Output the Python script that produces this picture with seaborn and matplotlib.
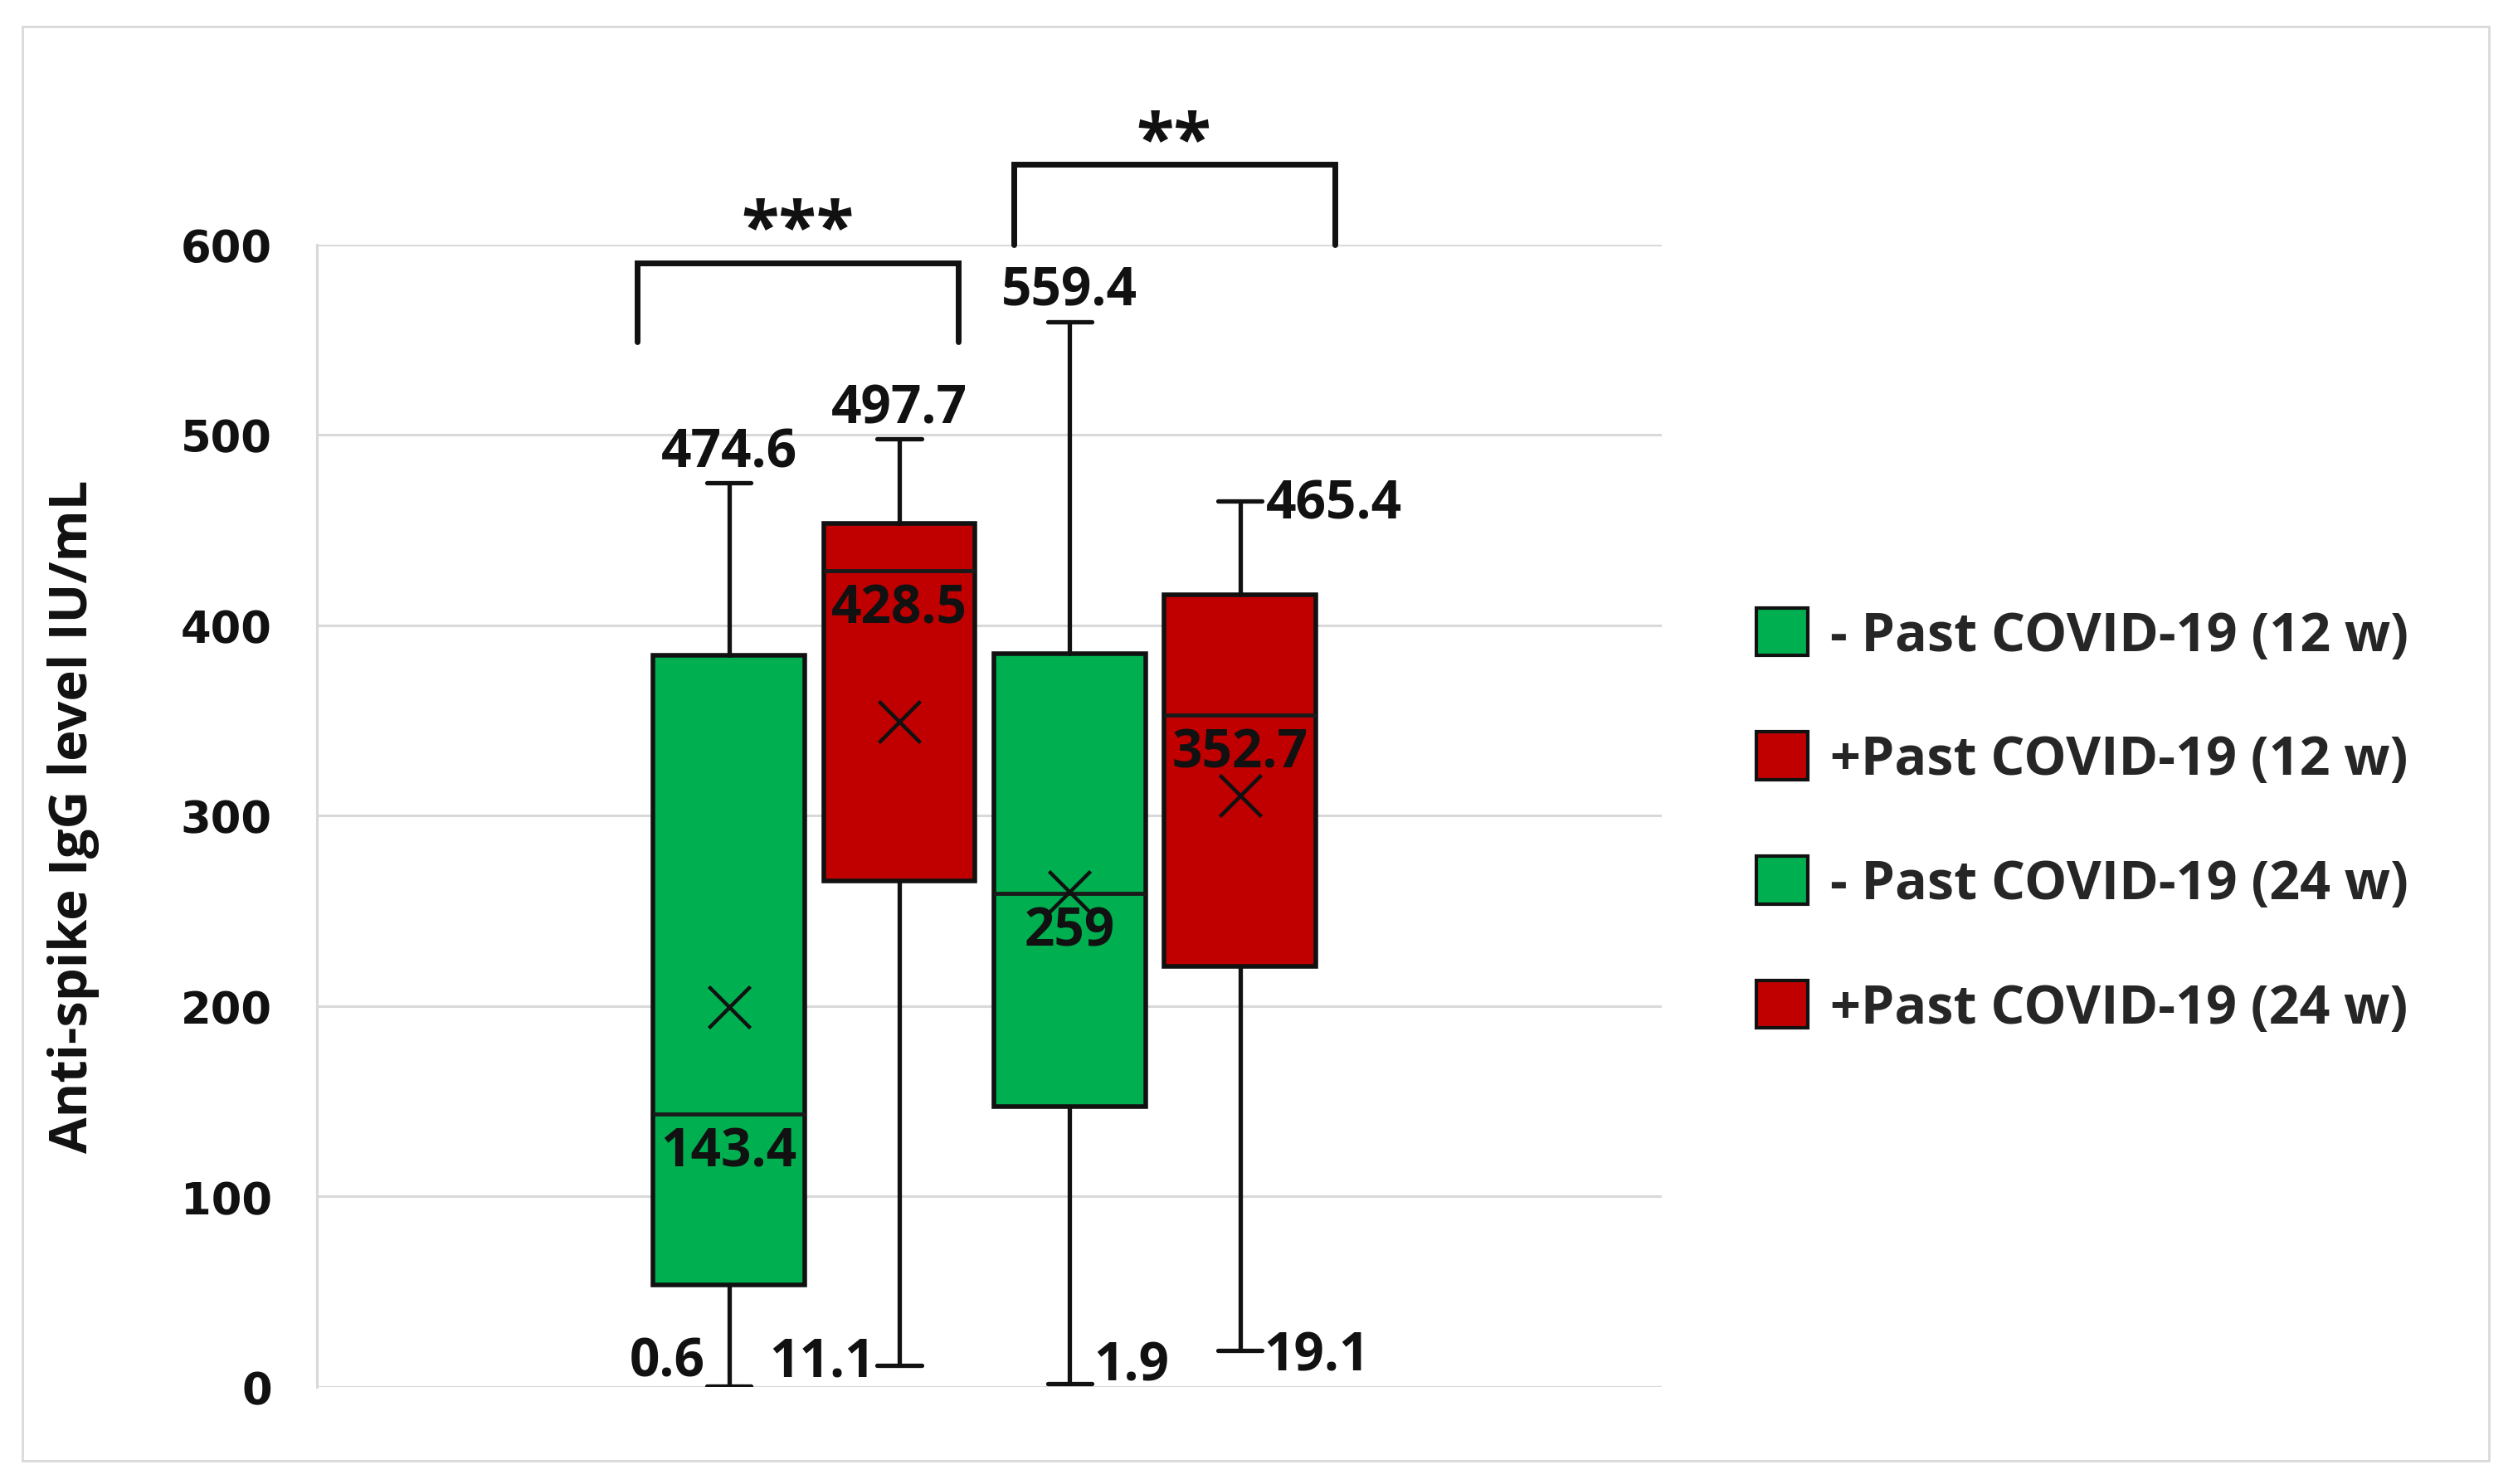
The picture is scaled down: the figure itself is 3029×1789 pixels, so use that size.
# Box plot of anti-spike IgG levels, past COVID-19 vs none, at 12 and 24 weeks
import matplotlib
matplotlib.use("Agg")
import matplotlib.pyplot as plt
from matplotlib.patches import Patch, Rectangle
import seaborn as sns

# data
groups = ["- Past COVID-19 (12 w)", "+Past COVID-19 (12 w)",
          "- Past COVID-19 (24 w)", "+Past COVID-19 (24 w)"]
whisker_low = [0.6, 11.1, 1.9, 19.1]
q1 = [53.5, 265.5, 147.0, 221.0]
median = [143.4, 428.5, 259.0, 352.7]
q3 = [384.0, 453.5, 385.0, 416.0]
whisker_high = [474.6, 497.7, 559.4, 465.4]
means = [199.5, 349.5, 260.0, 310.5]
box_colors = ["#00B050", "#C00000", "#00B050", "#C00000"]
yticks = [0, 100, 200, 300, 400, 500, 600]

# significance brackets: first box, second box, stars, bracket bottom, bracket top, stars height
sig_brackets = [(0, 1, "***", 549, 590, 607), (2, 3, "**", 600, 642, 653)]

positions = list(range(len(groups)))

sns.set_style("white")
plt.rcParams["font.family"] = ["Open Sans", "DejaVu Sans"]
plt.rcParams["font.weight"] = "bold"

fig = plt.figure(figsize=(30.29, 17.9), dpi=100)
ax = fig.add_axes([0.1261, 0.0654, 0.5352, 0.7695])

stats = []
for g, lo, a, m, b, hi in zip(groups, whisker_low, q1, median, q3, whisker_high):
    stats.append(dict(label=g, whislo=lo, q1=a, med=m, q3=b, whishi=hi, fliers=[]))

bp = ax.bxp(stats, positions=positions, widths=0.89, patch_artist=True,
            showfliers=False, capwidths=0.26,
            boxprops=dict(edgecolor="#111111", linewidth=4),
            whiskerprops=dict(color="#111111", linewidth=3.8),
            capprops=dict(color="#111111", linewidth=3.8),
            medianprops=dict(color="#1a1a1a", linewidth=3.5),
            zorder=3)
for patch, c in zip(bp["boxes"], box_colors):
    patch.set_facecolor(c)

# mean markers
sns.scatterplot(x=positions, y=means, marker="x", s=1300, color="#111111",
                linewidth=3.2, ax=ax, zorder=5, legend=False)

# value labels
lab = dict(fontsize=46, fontweight="bold", color="#111111", clip_on=False, zorder=6)
for i, p in enumerate(positions):
    ax.text(p, median[i] - 20, f"{median[i]:g}", ha="center", va="center", **lab)
    hi = whisker_high[i]
    if i == 3:
        ax.text(p + 0.15, hi - 2, f"{hi:g}", ha="left", va="center", **lab)
    else:
        ax.text(p, hi + 16, f"{hi:g}", ha="center", va="center", **lab)
    lo = whisker_low[i]
    if i < 2:
        ax.text(p - 0.14, max(lo, 14) - 1, f"{lo:g}", ha="right", va="center", **lab)
    else:
        ax.text(p + 0.14, max(lo, 14) - 3, f"{lo:g}", ha="left", va="center", **lab)

# significance brackets
offsets = [(-0.54, 0.345), (-0.33, 0.555)]
for (a, b, stars, y0, y1, ys), (dl, dr) in zip(sig_brackets, offsets):
    x0, x1 = positions[a] + dl, positions[b] + dr
    ax.plot([x0, x0, x1, x1], [y0, y1, y1, y0], color="#111111", lw=5,
            clip_on=False, solid_joinstyle="miter")
    ax.text((x0 + x1) / 2, ys, stars, ha="center", va="center",
            fontsize=60, fontweight="bold", color="#111111", clip_on=False)

ax.set_xlim(-2.418, 5.475)
ax.set_ylim(0, 600)
ax.set_yticks(yticks)
ax.set_xticks([])
ax.yaxis.grid(True, color="#d9d9d9", linewidth=2.2)
ax.set_axisbelow(True)
for s in ["top", "right", "bottom"]:
    ax.spines[s].set_visible(False)
ax.spines["left"].set_color("#d9d9d9")
ax.spines["left"].set_linewidth(2.2)
ax.tick_params(axis="y", length=0, pad=39)
for t in ax.get_yticklabels():
    t.set_fontfamily("DejaVu Sans")
    t.set_fontweight("bold")
    t.set_fontsize(38)
    t.set_color("#111111")

ax.set_ylabel("Anti-spike IgG level IU/mL", fontsize=45.5, fontweight="bold",
              color="#111111")
ax.yaxis.set_label_coords(-0.1616, 0.5)

handles = [Patch(facecolor=c, edgecolor="#111111", linewidth=3) for c in box_colors]
ax.legend(handles, groups, loc="center left", bbox_to_anchor=(0.699, 0.446),
          bbox_transform=fig.transFigure, frameon=False, fontsize=46.5,
          handlelength=0.96, handleheight=1.0, handletextpad=0.42,
          labelspacing=1.28, borderpad=0, borderaxespad=0)

# light frame round the whole picture
fig.add_artist(Rectangle((0.0089, 0.0156), 0.9815, 0.966, transform=fig.transFigure,
                         fill=False, edgecolor="#d9d9d9", linewidth=2))

fig.savefig("out.png", dpi=100)
